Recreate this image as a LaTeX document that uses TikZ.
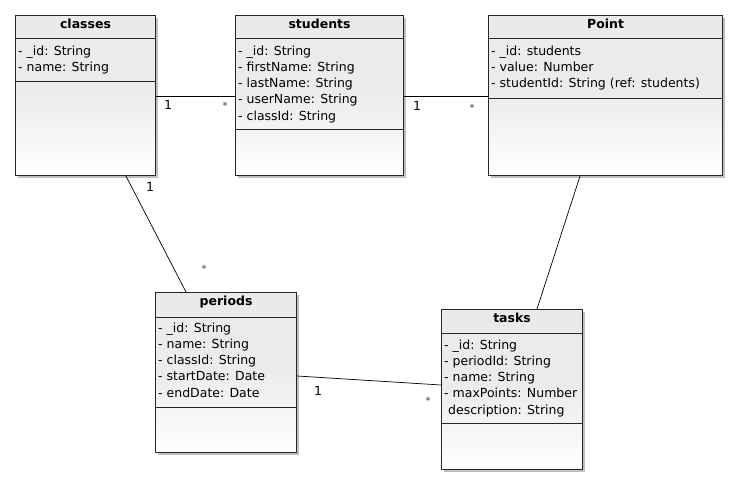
\documentclass[tikz,border=0pt]{standalone}
\usepackage{fontspec}
\setmainfont{DejaVu Sans}
\usetikzlibrary{shadows,calc}
\tikzset{
  classbox/.style={draw=black!85, line width=1.1pt, rectangle, inner sep=0pt,
    top color={rgb,255:red,234;green,234;blue,234}, bottom color=white, middle color={rgb,255:red,236;green,236;blue,236},
    drop shadow={shadow xshift=2pt, shadow yshift=-2pt, opacity=0.25, fill=black}},
  sepline/.style={draw=black!85, line width=0.9pt},
  ctitle/.style={anchor=base, inner sep=0pt, font=\fontsize{12.5}{14}\selectfont\bfseries},
  attr/.style={anchor=base west, inner sep=0pt, font=\fontsize{12.5}{14}\selectfont},
  mult/.style={inner sep=0pt, font=\fontsize{12.5}{14}\selectfont},
  multstar/.style={inner sep=0pt, text=black!75, font=\fontsize{10}{12}\selectfont},
  assoc/.style={draw=black, line width=0.7pt},
}
% #1 name, #2 left, #3 top, #4 right, #5 bottom, #6 sep1, #7 sep2, #8 title
\newcommand\umlclassbox[8]{%
  \node[classbox, anchor=north west, minimum width={#4pt-#2pt}, minimum height={#5pt-#3pt}] (#1) at (#2,#3) {};
  \draw[sepline] (#1.north west |- 0,#6) -- (#1.north east |- 0,#6);
  \draw[sepline] (#1.north west |- 0,#7) -- (#1.north east |- 0,#7);
  \node[ctitle] (#1-title) at ($(#1.north)+(0,13)$) {#8};
}
\begin{document}
\begin{tikzpicture}[x=1pt,y=-1pt]
\useasboundingbox (0,0) rectangle (738,485);
\fill[white] (0,0) rectangle (738,485);

\umlclassbox{classes}{15}{15}{155}{175}{38}{81}{classes}
\node[attr] (c1) at (18,55) {- \_id: String};
\node[attr] (c2) at (18,71.25) {- name: String};

\umlclassbox{students}{235}{15}{403}{175}{38}{129}{students}
\node[attr] (s1) at (238,55) {- \_id: String};
\node[attr] (s2) at (238,71.25) {- firstName: String};
\node[attr] (s3) at (238,87.5) {- lastName: String};
\node[attr] (s4) at (238,103.75) {- userName: String};
\node[attr] (s5) at (238,120) {- classId: String};

\umlclassbox{point}{488}{15}{722}{175}{38}{98}{Point}
\node[attr] (p1) at (491,55) {- \_id: students};
\node[attr] (p2) at (491,71.25) {- value: Number};
\node[attr] (p3) at (491,87.5) {- studentId: String (ref: students)};

\umlclassbox{periods}{155}{292}{296}{452}{317}{407}{periods}
\node[attr] (e1) at (158,332) {- \_id: String};
\node[attr] (e2) at (158,348.25) {- name: String};
\node[attr] (e3) at (158,364.5) {- classId: String};
\node[attr] (e4) at (158,380.75) {- startDate: Date};
\node[attr] (e5) at (158,397) {- endDate: Date};

\umlclassbox{tasks}{441}{309}{582}{469}{333}{423}{tasks}
\node[attr] (t1) at (444,349) {- \_id: String};
\node[attr] (t2) at (444,365.25) {- periodId: String};
\node[attr] (t3) at (444,381.5) {- name: String};
\node[attr] (t4) at (444,397.75) {- maxPoints: Number};
\node[attr] (t5) at (444,414) {\ description: String};

% associations
\draw[assoc] (classes.east |- 0,96) -- (students.west |- 0,96);
\draw[assoc] (students.east |- 0,96) -- (point.west |- 0,96);
\draw[assoc] ($(classes.south west)+(111,0)$) -- ($(periods.north west)+(31,0)$);
\draw[assoc] ($(point.south west)+(92,0)$) -- ($(tasks.north west)+(96,0)$);
\draw[assoc] (periods.east |- 0,376) -- (tasks.west |- 0,385);

\node[mult] (m1) at (168,105) {1};
\node[multstar] (m2) at (225,106) {*};
\node[mult] (m3) at (417,106) {1};
\node[multstar] (m4) at (472,108) {*};
\node[mult] (m5) at (150,187) {1};
\node[multstar] (m6) at (204,269) {*};
\node[mult] (m7) at (318,391) {1};
\node[multstar] (m8) at (428,401) {*};
\end{tikzpicture}
\end{document}
